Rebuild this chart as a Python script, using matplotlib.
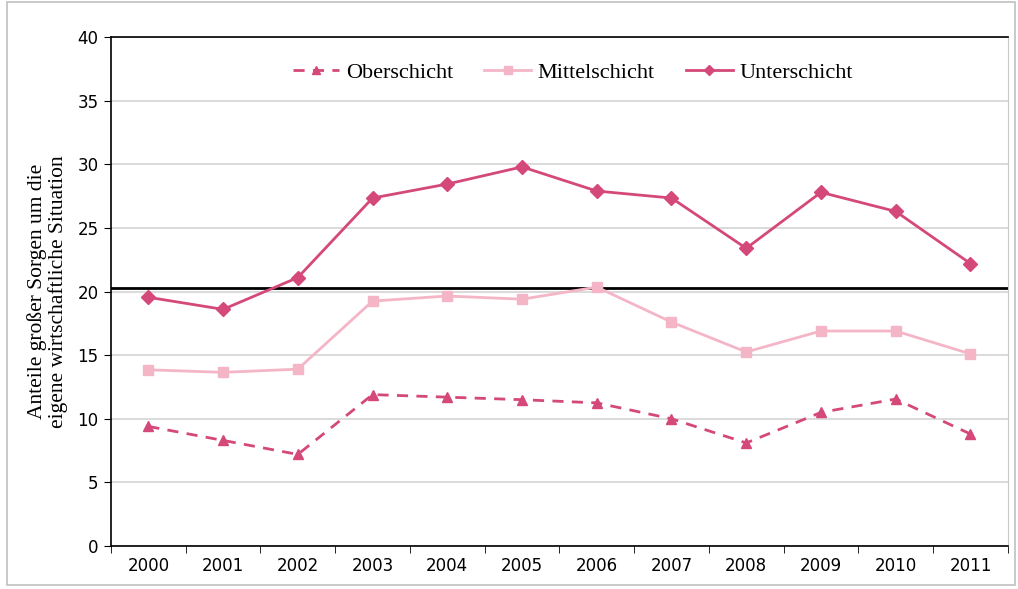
"""
Sorgen um die eigene wirtschaftliche Situation nach Schicht.
"""

import matplotlib

matplotlib.use("Agg")

import matplotlib.pyplot as plt
import numpy as np
from matplotlib.patches import Rectangle

# =====================================================
# Data
# =====================================================

years = [
    "2000", "2001", "2002", "2003", "2004", "2005",
    "2006", "2007", "2008", "2009", "2010", "2011",
]

oberschicht = [9.4, 8.3, 7.2, 11.9, 11.7, 11.5, 11.25, 10.0, 8.1, 10.5, 11.55, 8.8]
mittelschicht = [13.85, 13.65, 13.9, 19.25, 19.65, 19.4, 20.35, 17.6, 15.25, 16.9, 16.9, 15.1]
unterschicht = [19.55, 18.6, 21.1, 27.35, 28.45, 29.8, 27.9, 27.35, 23.4, 27.8, 26.3, 22.2]

reference_level = 20.3

dark_pink = "#d4487a"
light_pink = "#f4b6c7"

serif = ["Liberation Serif", "DejaVu Serif"]

# =====================================================
# Figure
# =====================================================

fig = plt.figure(figsize=(10.18, 5.89), dpi=100)

fig.patches.append(
    Rectangle(
        (0.007, 0.006),
        0.990,
        0.990,
        transform=fig.transFigure,
        fill=False,
        edgecolor="#c0c0c0",
        linewidth=1.2,
    )
)

ax = fig.add_axes([0.109, 0.073, 0.881, 0.864])

x = np.arange(len(years))

ax.plot(
    x,
    oberschicht,
    color=dark_pink,
    linestyle=(0, (4, 3)),
    linewidth=2,
    marker="^",
    markersize=7,
    label="Oberschicht",
)

ax.plot(
    x,
    mittelschicht,
    color=light_pink,
    linewidth=2,
    marker="s",
    markersize=7,
    label="Mittelschicht",
)

ax.plot(
    x,
    unterschicht,
    color=dark_pink,
    linewidth=2,
    marker="D",
    markersize=7,
    label="Unterschicht",
)

ax.axhline(reference_level, color="black", linewidth=2, zorder=1)

# Axes

ax.set_xlim(-0.5, len(years) - 0.5)
ax.set_ylim(0, 40)

ax.set_yticks(np.arange(0, 41, 5))
ax.yaxis.grid(True, color="#d4d4d4", linewidth=1.2, zorder=0)
ax.set_axisbelow(True)

ax.set_xticks(x)
ax.set_xticklabels(years)
ax.set_xticks(np.arange(-0.5, len(years), 1), minor=True)
ax.tick_params(axis="x", which="major", length=0, pad=8)
ax.tick_params(axis="x", which="minor", length=5, direction="out")
ax.tick_params(axis="y", length=5, direction="out", pad=4)

for label in ax.get_xticklabels():
    label.set_family(["Liberation Sans Narrow", "DejaVu Sans"])
    label.set_fontsize(12)

for label in ax.get_yticklabels():
    label.set_family(["DejaVu Sans"])
    label.set_fontsize(12)

for side in ["left", "bottom", "top"]:
    ax.spines[side].set_color("black")
    ax.spines[side].set_linewidth(1.2)

ax.spines["right"].set_color("#c8c8c8")

ax.set_ylabel(
    "Anteile großer Sorgen um die\neigene wirtschaftliche Situation",
    family=serif,
    fontsize=15.5,
    linespacing=1.05,
    labelpad=7,
)

ax.legend(
    loc="upper center",
    bbox_to_anchor=(0.515, 0.99),
    ncol=3,
    frameon=False,
    prop={"family": serif, "size": 16},
    handlelength=2.1,
    columnspacing=1.4,
    handletextpad=0.3,
    markerscale=0.8,
)

fig.savefig("out.png", dpi=100)
